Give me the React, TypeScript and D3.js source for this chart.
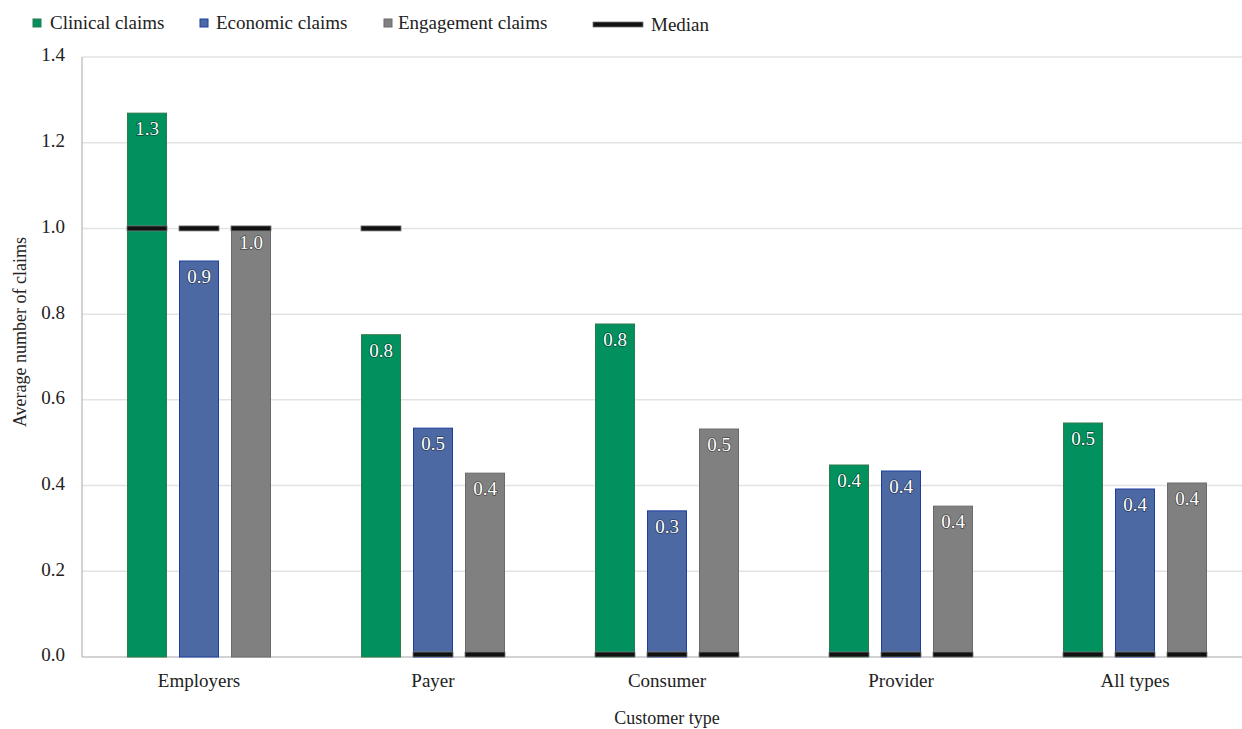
import React from "react";
import * as d3 from "d3";

// Customer segments along the x axis
const categories = ["Employers", "Payer", "Consumer", "Provider", "All types"];

// Claim series (average number of claims per customer type)
const seriesNames = ["Clinical claims", "Economic claims", "Engagement claims"];
const clinical = [1.269, 0.752, 0.777, 0.448, 0.546];
const economic = [0.924, 0.534, 0.341, 0.434, 0.392];
const engagement = [1.003, 0.429, 0.532, 0.352, 0.406];

// Median number of claims for each bar
const clinicalMedian = [1, 1, 0, 0, 0];
const economicMedian = [1, 0, 0, 0, 0];
const engagementMedian = [1, 0, 0, 0, 0];

const yTicks = [0, 0.2, 0.4, 0.6, 0.8, 1.0, 1.2, 1.4];

const colors = ["#01915f", "#4c69a3", "#808080"];
const strokes = ["#2f7a4c", "#1d3ea0", "#6a6a6a"];

const W = 1242;
const H = 729;
const FONT = '"Liberation Serif", "DejaVu Serif", serif';

export default function App() {
  const values = [clinical, economic, engagement];
  const medians = [clinicalMedian, economicMedian, engagementMedian];

  const x = d3.scaleBand<string>().domain(categories).range([82, 1252]).padding(0);
  const y = d3.scaleLinear().domain([0, 1.4]).range([657, 57]);
  const groupWidth = 143;
  const xs = d3
    .scaleBand<string>()
    .domain(seriesNames)
    .range([0, groupWidth])
    .paddingInner(0.25)
    .paddingOuter(0);
  const fmt = (v: number) => v.toFixed(1);

  const groupX = (c: string) => (x(c) as number) + x.bandwidth() / 2 - groupWidth / 2;
  const medianH = 5;

  // legend layout
  const legend = [
    { sq: 33, tx: 50 },
    { sq: 200, tx: 216 },
    { sq: 384, tx: 398 },
  ];

  const txt = { fontFamily: FONT };

  return (
    <svg
      width={W}
      height={H}
      style={{ position: "absolute", left: 0, top: 0, background: "#fff", fontFamily: FONT }}
    >
      <defs>
        <clipPath id="plotClip">
          <rect x={0} y={0} width={W} height={y(0)} />
        </clipPath>
      </defs>

      {/* gridlines */}
      {yTicks.slice(1).map((t) => (
        <line
          key={t}
          x1={x.range()[0]}
          x2={x.range()[1]}
          y1={y(t)}
          y2={y(t)}
          stroke="#e3e3e3"
          strokeWidth={1.5}
        />
      ))}

      {/* axes */}
      <line x1={82} x2={82} y1={y(1.4)} y2={y(0)} stroke="#b5b5b5" strokeWidth={1.2} />
      <line x1={x.range()[0]} x2={x.range()[1]} y1={y(0)} y2={y(0)} stroke="#c4c4c4" strokeWidth={1.5} />

      {/* y tick labels */}
      {yTicks.map((t) => (
        <text
          key={t}
          x={65}
          y={y(t)}
          textAnchor="end"
          dominantBaseline="middle"
          fontSize={19}
          fill="#222"
          style={txt}
        >
          {t.toFixed(1)}
        </text>
      ))}

      {/* bars */}
      {categories.map((c, ci) => (
        <g key={c} transform={`translate(${groupX(c)},0)`}>
          {seriesNames.map((s, si) => {
            const v = values[si][ci];
            const bx = xs(s) as number;
            return (
              <g key={s}>
                <rect
                  x={bx}
                  y={y(v)}
                  width={xs.bandwidth()}
                  height={y(0) - y(v)}
                  fill={colors[si]}
                  stroke={strokes[si]}
                  strokeWidth={1}
                />
                <text
                  x={bx + xs.bandwidth() / 2}
                  y={y(v) + 22}
                  textAnchor="middle"
                  fontSize={19}
                  fill="#fff"
                  stroke="rgba(0,0,0,0.45)"
                  strokeWidth={1.6}
                  paintOrder="stroke"
                  style={txt}
                >
                  {fmt(v)}
                </text>
              </g>
            );
          })}
        </g>
      ))}

      {/* medians */}
      <g clipPath="url(#plotClip)">
        {categories.map((c, ci) => (
          <g key={c} transform={`translate(${groupX(c)},0)`}>
            {seriesNames.map((s, si) => {
              const m = medians[si][ci];
              const top = Math.min(y(m) - medianH / 2, y(0) - medianH);
              return (
                <rect
                  key={s}
                  x={(xs(s) as number) - 0.5}
                  y={top}
                  width={xs.bandwidth() + 1}
                  height={medianH}
                  fill="#111"
                  stroke="#777"
                  strokeWidth={0.8}
                />
              );
            })}
          </g>
        ))}
      </g>

      {/* x labels */}
      {categories.map((c) => (
        <text
          key={c}
          x={(x(c) as number) + x.bandwidth() / 2}
          y={687}
          textAnchor="middle"
          fontSize={19}
          fill="#222"
          style={txt}
        >
          {c}
        </text>
      ))}

      {/* axis titles */}
      <text x={667} y={724} textAnchor="middle" fontSize={18} fill="#222" style={txt}>
        Customer type
      </text>
      <text
        transform={`translate(26,332) rotate(-90)`}
        textAnchor="middle"
        fontSize={18}
        fill="#222"
        style={txt}
      >
        Average number of claims
      </text>

      {/* legend */}
      {seriesNames.map((s, i) => (
        <g key={s}>
          <rect
            x={legend[i].sq}
            y={19}
            width={8}
            height={8}
            fill={colors[i]}
            stroke={strokes[i]}
            strokeWidth={1}
          />
          <text x={legend[i].tx} y={29} fontSize={19} fill="#222" style={txt}>
            {s}
          </text>
        </g>
      ))}
      <rect x={593} y={22} width={50} height={5} fill="#111" stroke="#777" strokeWidth={0.8} />
      <text x={651} y={31} fontSize={19} fill="#222" style={txt}>
        Median
      </text>
    </svg>
  );
}
